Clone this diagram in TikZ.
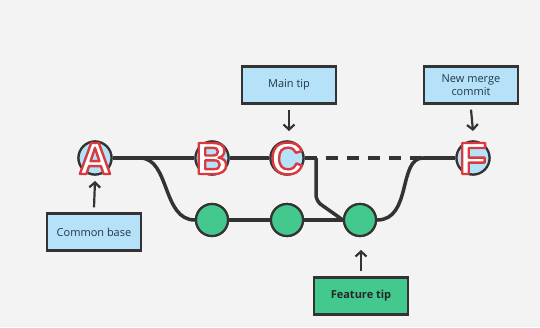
\documentclass[tikz,border=0pt]{standalone}
\usepackage{fontspec}
\setmainfont{Open Sans}
\newfontfamily\letterfont{Liberation Sans}
\usetikzlibrary{arrows.meta}
\definecolor{bg}{HTML}{F3F3F3}
\definecolor{ink}{HTML}{333333}
\definecolor{lblue}{HTML}{B5E2F8}
\definecolor{cgreen}{HTML}{43C98E}
\definecolor{lred}{HTML}{D93A3E}
\definecolor{txt}{HTML}{22364A}
\tikzset{
  commit/.style={circle, draw=ink, line width=2.2pt, fill=lblue, minimum size=33pt, inner sep=0pt},
  fcommit/.style={circle, draw=ink, line width=2.2pt, fill=cgreen, minimum size=32pt, inner sep=0pt},
  lbl/.style={draw=ink, line width=2.2pt, fill=lblue, minimum width=94pt, minimum height=37pt, inner sep=2pt, align=center, font=\fontsize{11}{13.5}\selectfont, text=txt},
  flbl/.style={lbl, fill=cgreen, font=\fontsize{11}{13.5}\selectfont\bfseries, text=black!85},
  edge/.style={draw=ink, line width=3.5pt},
  ptr/.style={draw=ink, line width=2.2pt, -{Straight Barb[length=5pt,width=11pt,line width=2.2pt]}},
}
\newcommand{\bigletter}[1]{\letterfont\bfseries\fontsize{45}{45}\selectfont\textcolor{white}{\special{pdf:literal direct 2 Tr 2.4 w 1 j 0.851 0.227 0.243 RG}#1\special{pdf:literal direct 0 Tr}}}
\begin{document}
\begin{tikzpicture}[x=1pt,y=-1pt]
\fill[bg] (0,0) rectangle (540,327);
\useasboundingbox (0,0) rectangle (540,327);
% commits
\node[commit] (A) at (95,158) {};
\node[commit] (B) at (212,158) {};
\node[commit] (C) at (287,158) {};
\node[commit] (F) at (473,158) {};
\node[fcommit] (G1) at (212,220) {};
\node[fcommit] (G2) at (287,220) {};
\node[fcommit] (G3) at (360,220) {};
\coordinate (split) at (140,158);
\coordinate (cdown) at (316,158);
\coordinate (mtop) at (423,158);
% connectors
\path[edge] (A.east) -- (B.west);
\path[edge] (B.east) -- (C.west);
\path[edge, dash pattern=on 12pt off 9pt] (C.east) -- (mtop);
\path[edge] (mtop) -- (F.west);
\path[edge] (split) .. controls (170,158) and (162,220) .. (G1.west);
\path[edge] (G1.east) -- (G2.west);
\path[edge] (G2.east) -- (G3.west);
\path[edge, rounded corners=6pt] (cdown) -- (316,201) -- (G3.west);
\path[edge] (G3.east) .. controls (412,220) and (398,158) .. (mtop);
% redraw circles on top
\node[commit] at (A) {};
\node[commit] at (B) {};
\node[commit] at (C) {};
\node[commit] at (F) {};
\node[fcommit] at (G1) {};
\node[fcommit] at (G2) {};
\node[fcommit] at (G3) {};
\node[inner sep=0pt] (LA) at (95,158.5) {\bigletter{A}};
\node[inner sep=0pt] (LB) at (212,158.5) {\bigletter{B}};
\node[inner sep=0pt] (LC) at (287,158.5) {\bigletter{C}};
\node[inner sep=0pt] (LF) at (473,158.5) {\bigletter{F}};
% labels
\node[lbl] (base) at (94,232) {Common base};
\node[lbl] (mtip) at (289,85) {Main tip};
\node[lbl] (merge) at (471,85) {New merge\\commit};
\node[flbl] (ftip) at (361,296) {Feature tip};
\draw[ptr] (base.north) ++(0,-5) -- (95,181);
\draw[ptr] (mtip.south) ++(0,5) -- (289,131);
\draw[ptr] (merge.south) ++(0,5) -- (473,131);
\draw[ptr] (ftip.north) ++(0,-5) -- (361,250);
\end{tikzpicture}
\end{document}
